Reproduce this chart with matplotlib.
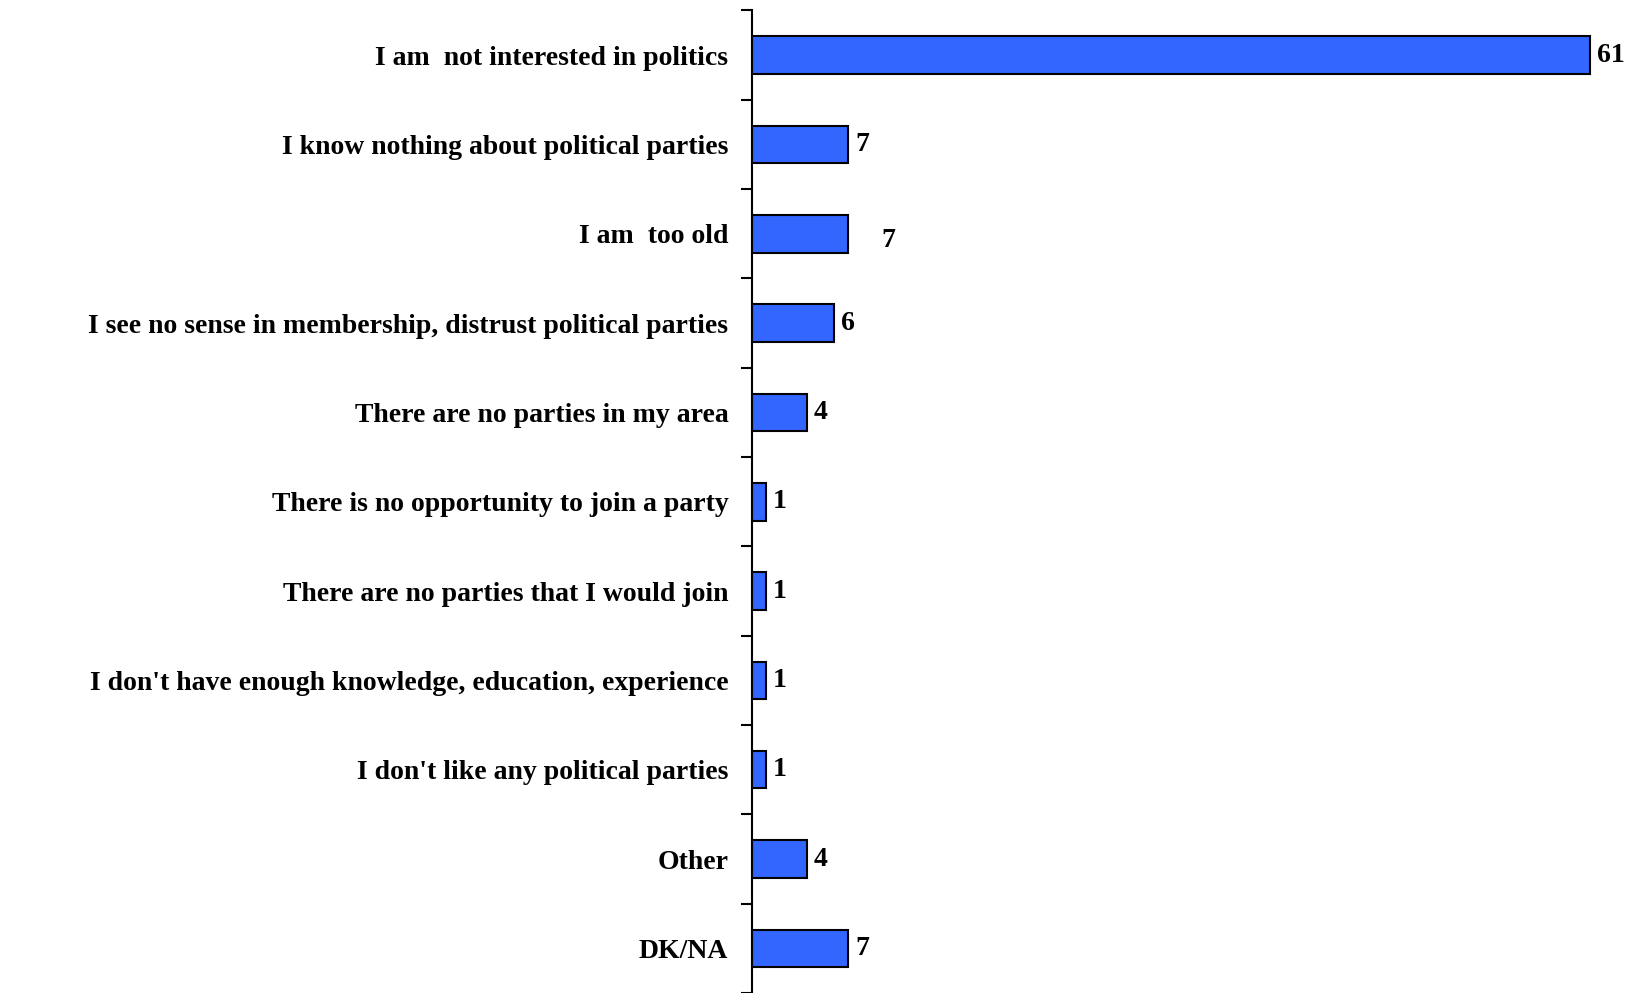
import numpy as np
import matplotlib
matplotlib.use("Agg")
import matplotlib.pyplot as plt

# reasons for not joining a party (%)
categories = [
    "I am  not interested in politics",
    "I know nothing about political parties",
    "I am  too old",
    "I see no sense in membership, distrust political parties",
    "There are no parties in my area",
    "There is no opportunity to join a party",
    "There are no parties that I would join",
    "I don't have enough knowledge, education, experience",
    "I don't like any political parties",
    "Other",
    "DK/NA",
]
values = [61, 7, 7, 6, 4, 1, 1, 1, 1, 4, 7]

# label offsets in points (the "too old" label sits off to the side in the original)
label_dx = [5, 5, 24, 5, 5, 5, 5, 5, 5, 5, 5]
label_dy = [0, 0, -5, 0, 0, 0, 0, 0, 0, 0, 0]

plt.rcParams['font.family'] = ['Liberation Serif', 'DejaVu Serif']

fig = plt.figure(figsize=(16.42, 9.93), dpi=100)
ax = fig.add_axes([752 / 1642, 0.0, 1 - 752 / 1642, 1 - 10.5 / 993])

y = np.arange(len(categories))
ax.barh(y, values, height=0.42, color='#3366FF', edgecolor='black', linewidth=1.5)

for yi, v, dx, dy in zip(y, values, label_dx, label_dy):
    ax.annotate(str(v), (v, yi), xytext=(dx, dy), textcoords='offset points',
                ha='left', va='center', fontsize=20, fontweight='bold')

ax.set_xlim(0, (1642 - 752) / 13.74)
ax.set_ylim(len(categories) - 0.5, -0.5)

ax.set_yticks(y)
ax.set_yticklabels(categories, fontsize=20, fontweight='bold')
ax.tick_params(axis='y', which='major', length=0, pad=17)
ax.set_yticks(np.arange(len(categories) + 1) - 0.5, minor=True)
ax.tick_params(axis='y', which='minor', length=8, width=1.5, direction='out')

ax.set_xticks([])
for side in ['top', 'right', 'bottom']:
    ax.spines[side].set_visible(False)
ax.spines['left'].set_linewidth(1.5)

fig.savefig('out.png', dpi=100)
